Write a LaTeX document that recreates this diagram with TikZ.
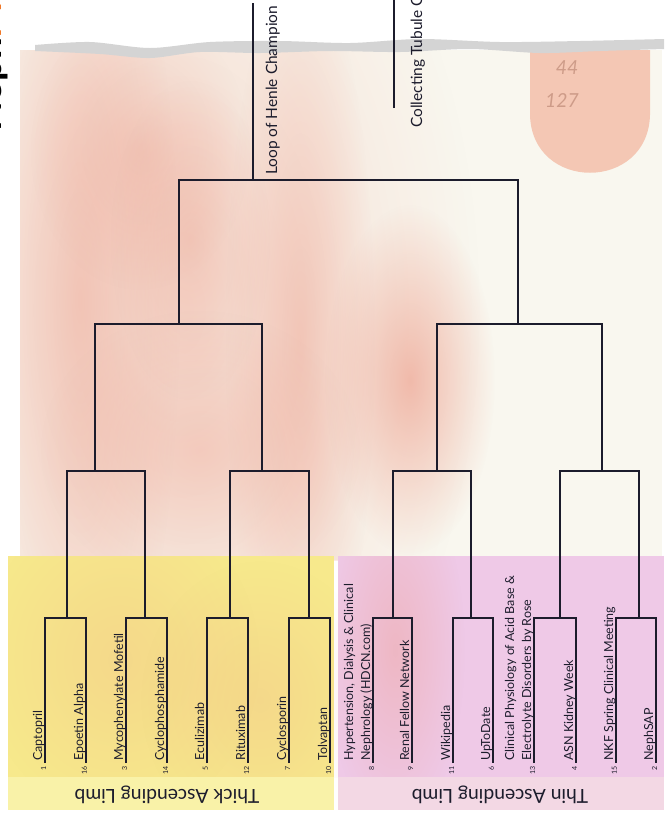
\documentclass[tikz,border=0pt]{standalone}
\usepackage{fontspec}
\setmainfont{Lato}
\usetikzlibrary{fadings}
\definecolor{paper}{RGB}{249,247,239}
\definecolor{tear}{RGB}{212,212,212}
\definecolor{blotch}{RGB}{236,150,130}
\definecolor{pill}{RGB}{236,112,72}
\definecolor{limbyellow}{RGB}{247,233,140}
\definecolor{limbyellowlight}{RGB}{249,242,168}
\definecolor{limbpink}{RGB}{239,201,231}
\definecolor{limbpinklight}{RGB}{243,216,228}
\definecolor{ink}{RGB}{28,28,44}
\definecolor{madness}{RGB}{240,120,40}
\tikzfading[name=soft, inner color=transparent!0, outer color=transparent!100]
\tikzset{
  bracket/.style={draw=ink, line width=0.8pt},
  team/.style={font=\fontsize{7.1}{9.6}\selectfont, text=ink, rotate=90, anchor=base west, inner sep=0pt, align=left},
  seed/.style={font=\fontsize{4}{4}\selectfont, text=ink, rotate=90, anchor=east, inner sep=0pt},
  champ/.style={font=\fontsize{8.8}{10}\selectfont, text=ink, rotate=90, anchor=base west, inner sep=0pt},
  limb/.style={font=\fontsize{11}{13}\selectfont, text=ink, rotate=180},
  blob/.style={fill=blotch, fill opacity=#1, path fading=soft},
  blob/.default=0.4
}
\begin{document}
\begin{tikzpicture}[x=0.02cm, y=-0.02cm]
	\useasboundingbox (0,0) rectangle (664,816);
	\fill[white] (0,0) rectangle (664,816);
	% Paper and blotches
	\fill[paper] (20,50) rectangle (662,560);
	\begin{scope}
		\clip (20,50) rectangle (662,560);
		\fill[blob=0.3] (180,310) ellipse (300 and 520);
		\fill[blob] (80,300) ellipse (100 and 450);
		\fill[blob=0.3] (140,150) ellipse (110 and 140);
		\fill[blob=0.4] (300,340) ellipse (75 and 380);
		\fill[blob=0.3] (190,240) ellipse (80 and 160);
		\fill[blob=0.3] (200,450) ellipse (160 and 140);
		\fill[blob=0.6] (410,380) ellipse (85 and 175);
		% Pill
		\fill[pill, fill opacity=0.35] (530,40) -- (530,115) .. controls (532,192) and (648,192) .. (650,115) -- (650,40) -- cycle;
	\end{scope}
	\node[text=pill!50!black, opacity=0.3, font=\fontsize{11}{12}\selectfont\itshape] (dose) at (567,68) {44};
	\node[text=pill!50!black, opacity=0.3, font=\fontsize{11}{12}\selectfont\itshape] (imprint) at (562,100) {127};
	% Torn edge
	\fill[tear] plot[smooth] coordinates {(35,45) (90,42) (150,48) (210,42) (280,41) (350,43) (420,39) (500,42) (580,41) (664,39)}
		-- plot[smooth] coordinates {(664,49) (600,51) (540,53) (470,49) (400,52) (330,51) (260,53) (200,52) (150,58) (100,54) (35,51)} -- cycle;
	% Brand
	\node[rotate=90, anchor=base west, inner sep=0pt, font=\fontsize{22}{24}\selectfont\bfseries] (brand) at (2,132) {Neph\textcolor{madness}{Madness}};
	% Limb boxes
	\fill[limbyellow] (8,556) rectangle (334,810);
	\begin{scope}
		\clip (8,556) rectangle (664,777);
		\fill[blob=0.2] (120,660) ellipse (140 and 160);
		\fill[blob=0.2] (260,700) ellipse (120 and 140);
	\end{scope}
	\fill[limbyellowlight] (8,777) rectangle (334,810);
	\fill[limbpink] (338,556) rectangle (664,810);
	\begin{scope}
		\clip (338,556) rectangle (664,777);
		\fill[blob=0.35] (395,650) ellipse (70 and 180);
	\end{scope}
	\fill[limbpinklight] (338,777) rectangle (664,810);
	\node[limb] (thick) at (167,795) {Thick Ascending Limb};
	\node[limb] (thin) at (500,795) {Thin Ascending Limb};
	% Teams
	\foreach \x/\s/\t [count=\i] in {45/1/Captopril, 86/16/Epoetin Alpha, 126/3/Mycophenylate Mofetil, 167/14/Cyclophosphamide,
		207/5/Eculizimab, 248/12/Rituximab, 289/7/Cyclosporin, 330/10/Tolvaptan,
		373/8/{Hypertension, Dialysis \& Clinical\\Nephrology (HDCN.com)}, 412/9/Renal Fellow Network, 453/11/Wikipedia, 493/6/UpToDate,
		534/13/{Clinical Physiology of Acid Base \&\\Electrolyte Disorders by Rose}, 576/4/ASN Kidney Week, 616/15/NKF Spring Clinical Meeting, 656/2/NephSAP} {
		\coordinate (t\i) at (\x,763);
		\node[team] (team\i) at (\x-3,761) {\t};
		\node[seed] (seed\i) at (\x-1.5,766) {\s};
	}
	% Junctions
	\coordinate (p1) at (67,618); \coordinate (p2) at (145,618);
	\coordinate (p3) at (230,618); \coordinate (p4) at (309,618);
	\coordinate (p5) at (393,618); \coordinate (p6) at (471,618);
	\coordinate (p7) at (560,618); \coordinate (p8) at (639,618);
	\coordinate (q1) at (95,471); \coordinate (q2) at (262,471);
	\coordinate (q3) at (437,471); \coordinate (q4) at (602,471);
	\coordinate (r1) at (179,324); \coordinate (r2) at (518,324);
	\coordinate (w) at (253,180);
	\coordinate (champ) at (253,3);
	% Bracket
	\draw[bracket] (t1) |- (p1) -| (t2);
	\draw[bracket] (t3) |- (p2) -| (t4);
	\draw[bracket] (t5) |- (p3) -| (t6);
	\draw[bracket] (t7) |- (p4) -| (t8);
	\draw[bracket] (t9) |- (p5) -| (t10);
	\draw[bracket] (t11) |- (p6) -| (t12);
	\draw[bracket] (t13) |- (p7) -| (t14);
	\draw[bracket] (t15) |- (p8) -| (t16);
	\draw[bracket] (p1) |- (q1) -| (p2);
	\draw[bracket] (p3) |- (q2) -| (p4);
	\draw[bracket] (p5) |- (q3) -| (p6);
	\draw[bracket] (p7) |- (q4) -| (p8);
	\draw[bracket] (q1) |- (r1) -| (q2);
	\draw[bracket] (q3) |- (r2) -| (q4);
	\draw[bracket] (r1) |- (w) -| (r2);
	\draw[bracket] (w) -- (champ);
	\node[champ] (loop) at (277,175) {Loop of Henle Champion};
	% Collecting tubule side
	\coordinate (ct) at (394,108);
	\coordinate (cttop) at (394,0);
	\draw[bracket] (ct) -- (cttop);
	\node[champ] (collect) at (422,128) {Collecting Tubule Champion};
\end{tikzpicture}
\end{document}
